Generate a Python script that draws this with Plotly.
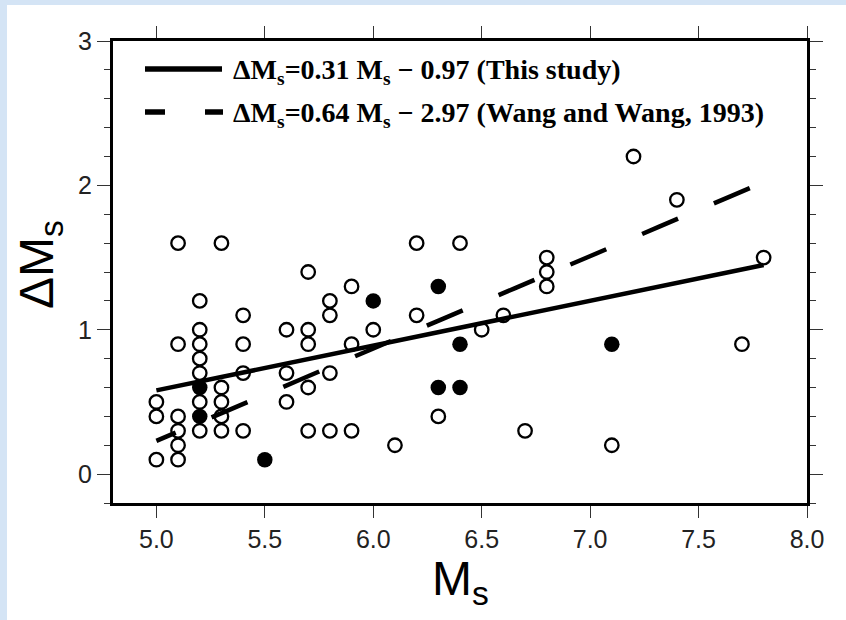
import plotly.graph_objects as go

# Surface-wave magnitude Ms and magnitude residual ΔMs
open_ms = [5.0, 5.0, 5.0,
           5.1, 5.1, 5.1, 5.1, 5.1, 5.1,
           5.2, 5.2, 5.2, 5.2, 5.2, 5.2, 5.2,
           5.3, 5.3, 5.3, 5.3, 5.3,
           5.4, 5.4, 5.4, 5.4,
           5.6, 5.6, 5.6,
           5.7, 5.7, 5.7, 5.7, 5.7,
           5.8, 5.8, 5.8, 5.8,
           5.9, 5.9, 5.9,
           6.0, 6.1, 6.2, 6.2, 6.3, 6.4, 6.5, 6.6, 6.7,
           6.8, 6.8, 6.8,
           7.1, 7.2, 7.4, 7.7, 7.8]
open_dms = [0.5, 0.4, 0.1,
            1.6, 0.9, 0.4, 0.3, 0.2, 0.1,
            1.2, 1.0, 0.9, 0.8, 0.7, 0.5, 0.3,
            1.6, 0.6, 0.5, 0.4, 0.3,
            1.1, 0.9, 0.7, 0.3,
            1.0, 0.7, 0.5,
            1.4, 1.0, 0.9, 0.6, 0.3,
            1.2, 1.1, 0.7, 0.3,
            1.3, 0.9, 0.3,
            1.0, 0.2, 1.6, 1.1, 0.4, 1.6, 1.0, 1.1, 0.3,
            1.5, 1.4, 1.3,
            0.2, 2.2, 1.9, 0.9, 1.5]

filled_ms = [5.2, 5.2, 5.5, 6.0, 6.3, 6.3, 6.4, 6.4, 7.1]
filled_dms = [0.6, 0.4, 0.1, 1.2, 1.3, 0.6, 0.9, 0.6, 0.9]

# Regression relations: ΔMs = a * Ms + b
fit_range = [5.0, 7.8]
this_study = (0.31, -0.97)
wang_1993 = (0.64, -2.97)

x_ticks = [5.0, 5.5, 6.0, 6.5, 7.0, 7.5, 8.0]
y_ticks = [0, 1, 2, 3]

W, H = 846, 620
ML, MR, MT, MB = 113, 39, 41, 117
PW, PH = W - ML - MR, H - MT - MB


def px_x(p):
    return (p - ML) / PW


def px_y(p):
    return (H - MB - p) / PH


def line_vals(coef):
    a, b = coef
    return [a * m + b for m in fit_range]


fig = go.Figure()

fig.add_trace(go.Scatter(
    x=fit_range, y=line_vals(this_study), mode="lines",
    line=dict(color="black", width=4.5), showlegend=False, hoverinfo="skip"))
fig.add_trace(go.Scatter(
    x=fit_range, y=line_vals(wang_1993), mode="lines",
    line=dict(color="black", width=4.5, dash="21px,39px,18px,0px"),
    showlegend=False, hoverinfo="skip"))

fig.add_trace(go.Scatter(
    x=open_ms, y=open_dms, mode="markers",
    marker=dict(symbol="circle-open", size=13.5, color="black",
                line=dict(width=2.3, color="black")),
    showlegend=False))
fig.add_trace(go.Scatter(
    x=filled_ms, y=filled_dms, mode="markers",
    marker=dict(symbol="circle", size=15.5, color="black", line=dict(width=0)),
    showlegend=False))

# Page border and legend keys
shapes = [
    dict(type="rect", xref="paper", yref="paper",
         x0=px_x(-10), x1=px_x(W + 10), y0=px_y(H + 10), y1=px_y(-10),
         fillcolor="#d4e4f5", line=dict(width=0), layer="below"),
    dict(type="rect", xref="paper", yref="paper",
         x0=px_x(7), x1=px_x(W + 10), y0=px_y(H + 10), y1=px_y(5),
         fillcolor="white", line=dict(width=0), layer="below"),
    dict(type="line", xref="paper", yref="paper",
         x0=px_x(145), x1=px_x(222), y0=px_y(69), y1=px_y(69),
         line=dict(color="black", width=5.5)),
    dict(type="line", xref="paper", yref="paper",
         x0=px_x(145), x1=px_x(223), y0=px_y(112), y1=px_y(112),
         line=dict(color="black", width=5.5, dash="20px,40px")),
]

legend_font = dict(family="Liberation Serif", size=28, color="black")
annotations = [
    dict(xref="paper", yref="paper", x=px_x(231), y=px_y(71),
         xanchor="left", yanchor="middle", showarrow=False, font=legend_font,
         text="<b>ΔM<sub>s</sub>=0.31 M<sub>s</sub> − 0.97 (This study)</b>"),
    dict(xref="paper", yref="paper", x=px_x(231), y=px_y(114),
         xanchor="left", yanchor="middle", showarrow=False, font=legend_font,
         text="<b>ΔM<sub>s</sub>=0.64 M<sub>s</sub> − 2.97 (Wang and Wang, 1993)</b>"),
    dict(xref="paper", yref="paper", x=px_x(460), y=px_y(582),
         xanchor="center", yanchor="middle", showarrow=False,
         font=dict(family="Liberation Sans", size=48, color="black"),
         text="M<sub>s</sub>"),
    dict(xref="paper", yref="paper", x=px_x(40), y=px_y(265),
         xanchor="center", yanchor="middle", showarrow=False, textangle=-90,
         font=dict(family="Liberation Sans", size=48, color="black"),
         text="ΔM<sub>s</sub>"),
]

axis_common = dict(
    showline=True, linewidth=3, linecolor="black", mirror="ticks",
    ticks="outside", tickcolor="#333", tickwidth=1.2,
    showgrid=False, zeroline=False,
    tickfont=dict(family="Liberation Sans", size=25, color="#222"),
)

fig.update_xaxes(range=[4.8, 8.0], tickvals=x_ticks,
                 ticktext=[f"{v:.1f}" for v in x_ticks], ticklen=12,
                 **axis_common)
fig.update_yaxes(range=[-0.2, 3.0], tickvals=y_ticks, ticklen=13,
                 minor=dict(dtick=0.2, ticks="outside", ticklen=6,
                            tickcolor="#333", tickwidth=1.2, showgrid=False),
                 **axis_common)

fig.update_layout(
    width=W, height=H,
    margin=dict(l=ML, r=MR, t=MT, b=MB, pad=0),
    paper_bgcolor="white", plot_bgcolor="white",
    shapes=shapes, annotations=annotations,
    showlegend=False,
)

fig.write_html("out.html")
